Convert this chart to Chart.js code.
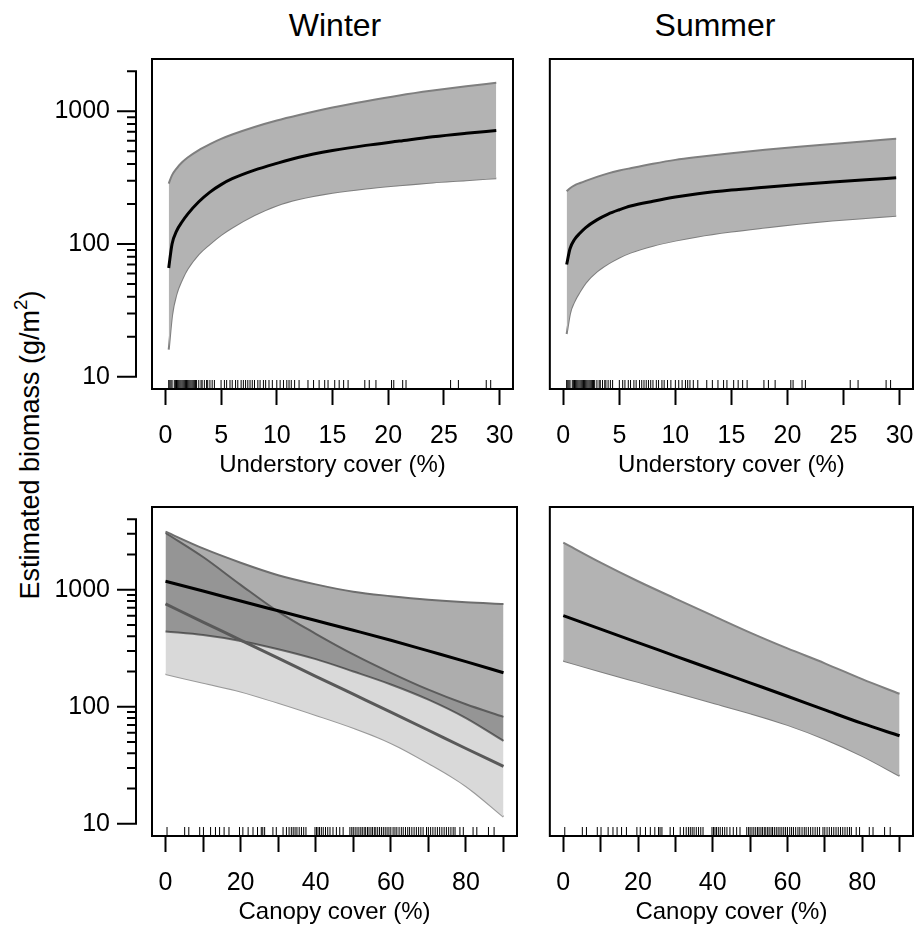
<!DOCTYPE html>
<html><head><meta charset="utf-8">
<script src="https://cdn.jsdelivr.net/npm/chart.js@4/dist/chart.umd.min.js"></script>
<style>
html,body{margin:0;padding:0;background:#fff;}
body{width:915px;height:928px;position:relative;overflow:hidden;font-family:"Liberation Sans",Arial,sans-serif;color:#000;}
canvas{position:absolute;}
.title{position:absolute;font-size:32px;transform:translate(-50%,-50%);white-space:nowrap;}
#ylab{position:absolute;left:30px;top:445px;font-size:27px;transform:translate(-50%,-50%) rotate(-90deg);white-space:nowrap;}
#ylab sup{font-size:0.7em;vertical-align:0.6em;line-height:0;}
</style></head><body>
<div class="title" style="left:335px;top:25px">Winter</div>
<div class="title" style="left:715px;top:25px">Summer</div>
<div id="ylab">Estimated biomass (g/m<sup>2</sup>)</div>
<canvas id="tl" width="490" height="450" style="left:40px;top:45px"></canvas>
<canvas id="tr" width="400" height="450" style="left:540px;top:45px"></canvas>
<canvas id="bl" width="490" height="433" style="left:40px;top:495px"></canvas>
<canvas id="br" width="400" height="433" style="left:540px;top:495px"></canvas>
<script>
// ---------- data ----------
const understoryX = [0.3, 0.6, 1, 1.5, 2, 3, 4, 5, 6, 8, 10, 12, 15, 18, 21, 24, 27, 29.7];
const winterUndFit = [66, 100, 125, 147, 168, 208, 246, 280, 310, 360, 405, 450, 505, 553, 596, 642, 682, 716];
const winterUndUpper = [285, 330, 370, 412, 448, 510, 565, 618, 667, 760, 850, 935, 1065, 1190, 1315, 1430, 1540, 1636];
const winterUndLower = [16, 29, 42, 54, 65, 84, 100, 117, 133, 165, 195, 218, 243, 262, 277, 291, 302, 313];
const summerUndFit = [70, 92, 108, 121, 133, 152, 168, 181, 193, 210, 226, 239, 255, 268, 281, 293, 305, 315];
const summerUndUpper = [250, 263, 276, 288, 299, 320, 340, 357, 372, 402, 430, 452, 482, 512, 540, 567, 595, 619];
const summerUndLower = [21, 30, 37, 44, 51, 62, 71, 79, 86, 97, 106, 114, 124, 133, 142, 150, 157, 163];

const canopyX = [0, 10, 20, 30, 40, 50, 60, 70, 80, 90];
const winterCanFitA = [1180, 975, 800, 660, 545, 450, 370, 300, 243, 195];
const winterCanUpperA = [3130, 2250, 1700, 1330, 1110, 960, 880, 820, 780, 755];
const winterCanLowerA = [440, 410, 365, 310, 255, 200, 155, 115, 80, 51];
const winterCanFitB = [755, 529, 371, 260, 182, 128, 90, 63, 44, 31];
const winterCanUpperB = [3050, 1900, 1100, 650, 420, 280, 195, 140, 105, 82];
const winterCanLowerB = [190, 160, 135, 108, 85, 66, 49, 33, 21, 11.5];
const summerCanFit = [600, 460, 353, 271, 208, 160, 123, 94, 72, 56.5];
const summerCanUpper = [2520, 1700, 1180, 840, 600, 430, 315, 235, 172, 129];
const summerCanLower = [247, 200, 163, 133, 108, 88, 70, 53, 38, 25.7];

const understoryRug = [0.3,0.4,0.5,0.6,0.8,0.9,1.0,1.1,1.2,1.3,1.4,1.5,1.6,1.7,1.8,1.9,2.0,2.1,2.2,2.3,2.4,2.5,2.6,2.7,2.8,3.0,3.2,3.3,3.5,3.7,3.8,4.0,4.2,4.4,
  5.0,5.3,5.5,5.8,6.0,6.3,6.5,6.8,7.0,7.2,7.4,7.6,7.8,8.0,8.3,8.5,8.8,9.0,9.3,9.6,10.0,10.3,10.6,10.9,11.1,11.3,11.6,12.0,
  12.8,13.3,13.8,14.3,14.6,15.2,15.6,16.0,16.4,17.9,18.3,18.9,20.3,20.5,21.3,21.6,25.6,26.3,28.8,29.2];
const canopyRug = [0.4,5.1,6.2,9.1,10.1,12,13.3,14.4,15.6,16.9,19.7,20.6,22,23.3,24.5,25.5,25.9,26.4,28.6,29.5,31.3,32.2,
  32.9,33.5,34,34.5,35,35.6,36.2,36.8,37.4,39.8,40.2,40.6,41,41.5,42,42.6,43.2,43.8,44.6,45.5,46.4,47.3,
  49.1,49.6,50,50.5,51,51.5,52,52.4,52.9,53.3,53.8,54.2,54.7,55.1,55.6,56,56.5,57,57.5,58,58.5,59,59.5,60,60.6,
  61.1,61.6,62.2,62.8,63.3,63.9,64.5,65,65.6,66.2,66.8,67.4,68,68.6,69.5,70,70.6,71.2,71.8,72.4,73,73.6,74.2,74.8,75.4,76,76.6,77.1,
  78.4,79.3,81.9,82.9,86,87.5];

const understoryTicks = [0, 5, 10, 15, 20, 25, 30];
const understoryTickLabels = ['0', '5', '10', '15', '20', '25', '30'];
const canopyTicks = [0, 10, 20, 30, 40, 50, 60, 70, 80, 90];
const canopyTickLabels = ['0', '', '20', '', '40', '', '60', '', '80', ''];
const yMajorTicks = [10, 100, 1000];
const yMajorLabels = ['10', '100', '1000'];
const yMinorTop = [20, 30, 40, 50, 60, 70, 80, 90, 200, 300, 400, 500, 600, 700, 800, 900, 2000];
const yMinorBottom = [20, 30, 40, 50, 60, 70, 80, 90, 200, 300, 400, 500, 600, 700, 800, 900, 2000, 3000, 4000];

// ---------- drawing ----------
const FAM = '"Liberation Sans", Arial, sans-serif';

const rStyle = {
  id: 'rstyle',
  afterDatasetsDraw(chart, args, o) {
    const {ctx, chartArea: a} = chart;
    const x = chart.scales.x;
    ctx.save();
    ctx.strokeStyle = '#000';
    ctx.lineWidth = 1;
    ctx.beginPath();
    for (const v of o.rug) {
      const px = x.getPixelForValue(v);
      ctx.moveTo(px, a.bottom - 9);
      ctx.lineTo(px, a.bottom);
    }
    ctx.stroke();
    ctx.lineWidth = 2;
    ctx.strokeRect(a.left, a.top, a.right - a.left, a.bottom - a.top);
    ctx.restore();
  },
  afterDraw(chart, args, o) {
    if (!o.yAxis) return;
    const {ctx, chartArea: a} = chart;
    const y = chart.scales.y;
    const ax = a.left - 16;
    const all = o.yMajor.concat(o.yMinor).map(v => y.getPixelForValue(v));
    ctx.save();
    ctx.strokeStyle = '#000';
    ctx.lineWidth = 2;
    ctx.beginPath();
    ctx.moveTo(ax, Math.max(...all) + 1);
    ctx.lineTo(ax, Math.min(...all) - 1);
    o.yMajor.forEach(v => { const p = y.getPixelForValue(v); ctx.moveTo(ax - 19, p); ctx.lineTo(ax, p); });
    o.yMinor.forEach(v => { const p = y.getPixelForValue(v); ctx.moveTo(ax - 9, p); ctx.lineTo(ax, p); });
    ctx.stroke();
    ctx.fillStyle = '#000';
    ctx.font = '25px ' + FAM;
    ctx.textAlign = 'right';
    ctx.textBaseline = 'middle';
    o.yMajor.forEach((v, i) => ctx.fillText(o.yLabels[i], ax - 26, y.getPixelForValue(v)));
    ctx.restore();
  }
};

function pts(xs, ys) { return ys.map((v, i) => ({x: xs[i], y: v})); }

function logRange(lo, hi) {
  const a = Math.log10(lo), b = Math.log10(hi), e = (b - a) * 0.04;
  return [Math.pow(10, a - e), Math.pow(10, b + e)];
}

function panel(id, cfg) {
  const [ymin, ymax] = logRange(10, cfg.ytop);
  const xr = cfg.xmax - cfg.xmin, xe = xr * 0.04;
  new Chart(document.getElementById(id), {
    type: 'line',
    data: {datasets: cfg.datasets},
    plugins: [rStyle],
    options: {
      responsive: false, animation: false, devicePixelRatio: 1,
      layout: {padding: cfg.padding},
      elements: {point: {radius: 0, hoverRadius: 0}, line: {cubicInterpolationMode: 'monotone'}},
      plugins: {
        legend: {display: false}, tooltip: {enabled: false},
        rstyle: {rug: cfg.rug, yAxis: cfg.yAxis, yMajor: yMajorTicks, yLabels: yMajorLabels, yMinor: cfg.yMinor}
      },
      scales: {
        x: {
          type: 'linear', position: 'bottom', min: cfg.xmin - xe, max: cfg.xmax + xe,
          afterBuildTicks: s => { s.ticks = cfg.ticks.map(v => ({value: v})); },
          afterFit: s => { s.height = cfg.axisH; },
          grid: {drawOnChartArea: false, drawTicks: true, tickLength: 16, tickWidth: 2, tickColor: '#000'},
          border: {display: true, color: '#000', width: 2},
          ticks: {autoSkip: false, maxRotation: 0, padding: 16, color: '#000',
                  font: {size: 25, family: FAM},
                  callback: (v, i) => cfg.tickLabels[i]},
          title: {display: true, text: cfg.xtitle, color: '#000', font: {size: 24, family: FAM},
                  padding: {top: 0, bottom: cfg.titlePad}}
        },
        y: {type: 'logarithmic', display: false, min: ymin, max: ymax}
      }
    }
  });
}

function band(xs, fit, upp, low, fill, edge) {
  return [
    {data: pts(xs, fit), borderColor: '#000', borderWidth: 3, fill: false},
    {data: pts(xs, upp), borderColor: edge, borderWidth: 2, fill: '+1', backgroundColor: fill},
    {data: pts(xs, low), borderColor: edge, borderWidth: 2, fill: false}
  ];
}

panel('tl', {
  datasets: band(understoryX, winterUndFit, winterUndUpper, winterUndLower, '#b3b3b3', '#7f7f7f'),
  padding: {left: 112, top: 14, right: 13, bottom: 0}, axisH: 106, titlePad: 15.6,
  xmin: 0, xmax: 30, ticks: understoryTicks, tickLabels: understoryTickLabels, xtitle: 'Understory cover (%)',
  ytop: 2000, yAxis: true, yMinor: yMinorTop, rug: understoryRug
});
panel('tr', {
  datasets: band(understoryX, summerUndFit, summerUndUpper, summerUndLower, '#b3b3b3', '#7f7f7f'),
  padding: {left: 9, top: 14, right: 27, bottom: 0}, axisH: 106, titlePad: 15.6,
  xmin: 0, xmax: 30, ticks: understoryTicks, tickLabels: understoryTickLabels, xtitle: 'Understory cover (%)',
  ytop: 2000, yAxis: false, yMinor: yMinorTop, rug: understoryRug
});
panel('bl', {
  datasets: [
    {data: pts(canopyX, winterCanFitA), borderColor: '#000', borderWidth: 3, fill: false},
    {data: pts(canopyX, winterCanFitB), borderColor: '#595959', borderWidth: 3, fill: false},
    {data: pts(canopyX, winterCanUpperA), borderColor: '#6e6e6e', borderWidth: 2, fill: '+1', backgroundColor: 'rgba(32,32,32,0.37)'},
    {data: pts(canopyX, winterCanLowerA), borderColor: '#6e6e6e', borderWidth: 2, fill: false},
    {data: pts(canopyX, winterCanUpperB), borderColor: '#7f7f7f', borderWidth: 2, fill: '+1', backgroundColor: '#d9d9d9'},
    {data: pts(canopyX, winterCanLowerB), borderColor: '#9a9a9a', borderWidth: 2, fill: false}
  ],
  padding: {left: 112, top: 12, right: 13, bottom: 0}, axisH: 92, titlePad: 1.6,
  xmin: 0, xmax: 90, ticks: canopyTicks, tickLabels: canopyTickLabels, xtitle: 'Canopy cover (%)',
  ytop: 4000, yAxis: true, yMinor: yMinorBottom, rug: canopyRug
});
panel('br', {
  datasets: band(canopyX, summerCanFit, summerCanUpper, summerCanLower, '#b3b3b3', '#7f7f7f'),
  padding: {left: 9, top: 12, right: 27, bottom: 0}, axisH: 92, titlePad: 1.6,
  xmin: 0, xmax: 90, ticks: canopyTicks, tickLabels: canopyTickLabels, xtitle: 'Canopy cover (%)',
  ytop: 4000, yAxis: false, yMinor: yMinorBottom, rug: canopyRug
});
</script>
</body></html>
